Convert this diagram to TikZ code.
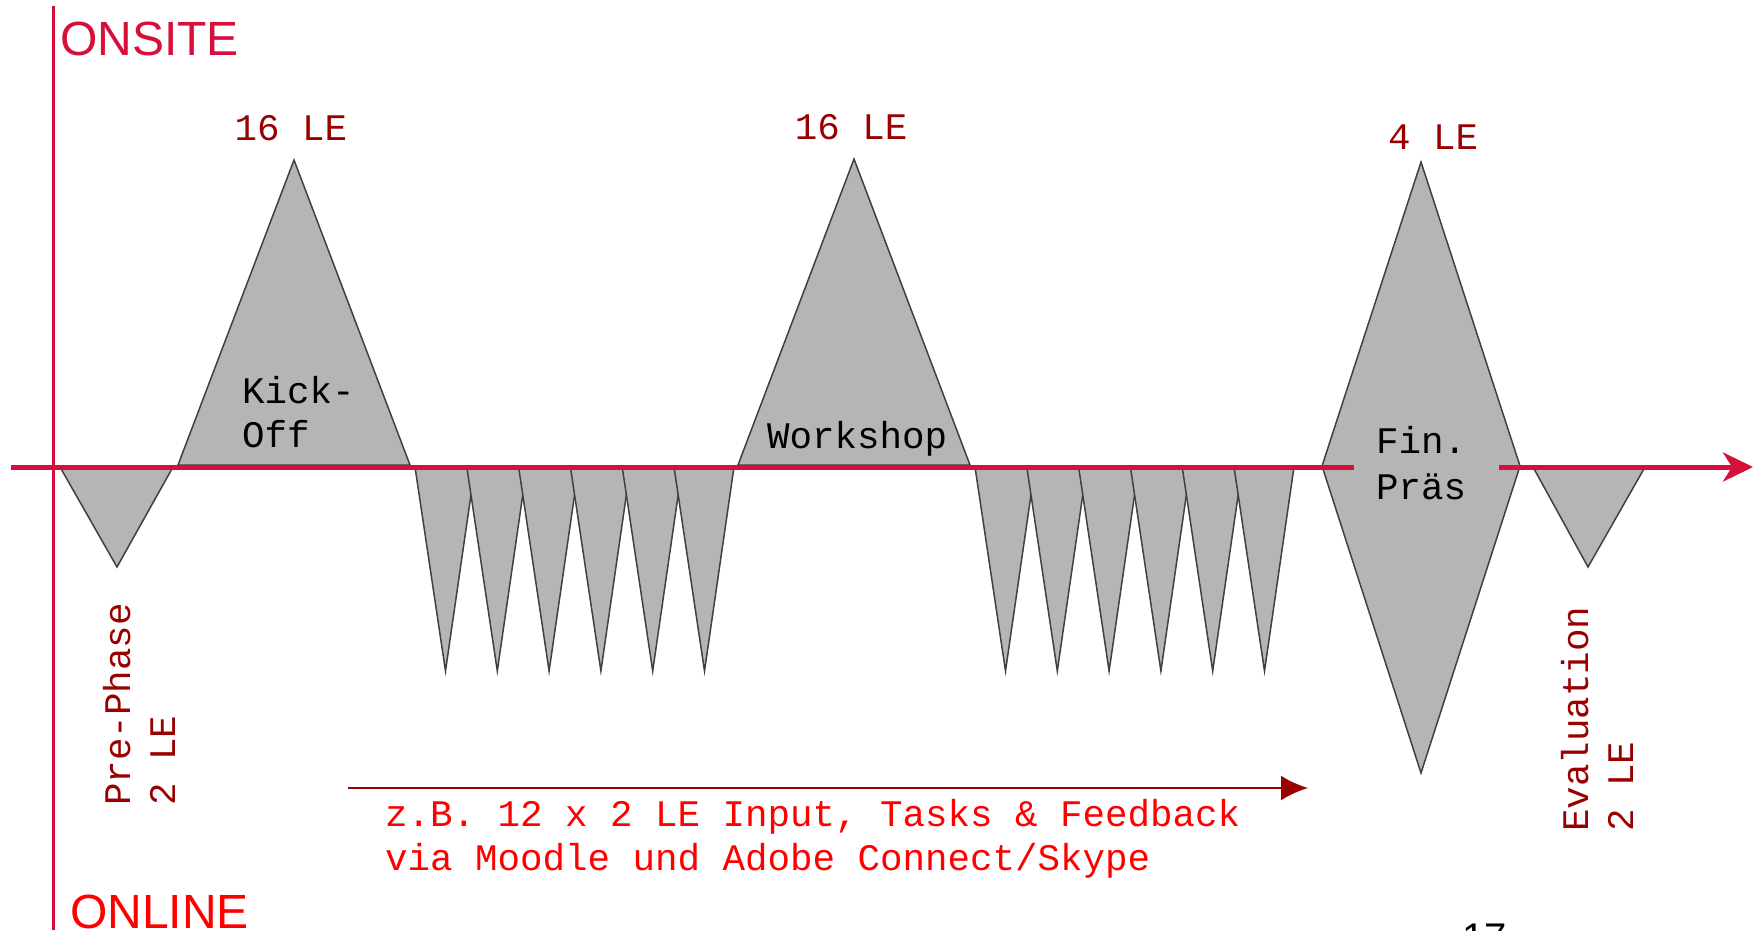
\documentclass[tikz,border=0pt]{standalone}
\usepackage{fontspec}
\setmainfont{Liberation Sans}
\newfontfamily\monof{Liberation Mono}
\usetikzlibrary{arrows.meta}
\definecolor{axisred}{HTML}{D6103A}
\definecolor{darkred}{HTML}{990000}
\definecolor{brightred}{HTML}{FF0000}
\definecolor{shapegray}{HTML}{B5B5B5}
\definecolor{edgegray}{HTML}{404040}
\tikzset{
  phase/.style={fill=shapegray,draw=edgegray,line width=1.5pt,line join=miter},
  axisline/.style={draw=axisred,line width=5pt},
  monolbl/.style={font=\monof\fontsize{37.5}{44}\selectfont,inner sep=0pt},
  lelbl/.style={monolbl,text=darkred},
  phaselbl/.style={monolbl,text=black,anchor=base west},
  sidelbl/.style={monolbl,text=darkred,rotate=90,anchor=base west},
  biglbl/.style={font=\fontsize{48}{54}\selectfont,inner sep=0pt,anchor=base west},
}
\begin{document}
\begin{tikzpicture}[x=1pt,y=-1pt]
\useasboundingbox (0,0) rectangle (1760,930);
\begin{scope}
\clip (0,0) rectangle (1760,930);
% vertical axis
\coordinate (vtop) at (53,6);
\coordinate (vbot) at (53,930);
\draw[draw=axisred,line width=3pt] (vtop) -- (vbot);
% shapes
\draw[phase] (60,467) -- (173,467) -- (117,567) -- cycle;
\draw[phase] (178,465) -- (410,465) -- (294,160) -- cycle;
\foreach \i in {0,...,5}{
  \pgfmathsetmacro{\xa}{415+51.8*\i}
  \draw[phase] (\xa,467) -- (\xa+60,467) -- (\xa+30.5,671) -- cycle;
}
\draw[phase] (738,465) -- (970,465) -- (854,159) -- cycle;
\foreach \i in {0,...,5}{
  \pgfmathsetmacro{\xa}{975+51.8*\i}
  \draw[phase] (\xa,467) -- (\xa+60,467) -- (\xa+30.5,671) -- cycle;
}
\draw[phase] (1421,162) -- (1520,466) -- (1421,773) -- (1322,466) -- cycle;
\draw[phase] (1533,467) -- (1645,467) -- (1588,567) -- cycle;
% horizontal axis
\coordinate (hstart) at (11,467);
\coordinate (hgapl) at (1354,467);
\coordinate (hgapr) at (1499,467);
\coordinate (hend) at (1753,467);
\draw[axisline] (hstart) -- (hgapl);
\draw[axisline,-{Stealth[length=30pt,width=29pt,inset=9pt]}] (hgapr) -- (hend);
% labels
\node[biglbl,text=axisred] (onsite) at (60,55) {ONSITE};
\node[biglbl,text=brightred] (online) at (70,928) {ONLINE};
\node[lelbl,anchor=base] (le1) at (291,140) {16 LE};
\node[lelbl,anchor=base] (le2) at (851,139) {16 LE};
\node[lelbl,anchor=base] (le3) at (1433,149) {4 LE};
\node[phaselbl] (kick1) at (242,403) {Kick-};
\node[phaselbl] (kick2) at (242,447) {Off};
\node[phaselbl] (work) at (767,448) {Workshop};
\node[phaselbl] (fin1) at (1376,453) {Fin.};
\node[phaselbl] (fin2) at (1376,499) {Präs};
\node[sidelbl] (pre1) at (130,806) {Pre-Phase};
\node[sidelbl] (pre2) at (175,806) {2 LE};
\node[sidelbl] (eval1) at (1588,832) {Evaluation};
\node[sidelbl] (eval2) at (1633,832) {2 LE};
% online arrow
\coordinate (oa) at (348,788);
\coordinate (ob) at (1308,788);
\draw[draw=darkred,line width=2.5pt,-{Latex[length=27pt,width=25pt]}] (oa) -- (ob);
\node[monolbl,text=brightred,anchor=base west] (txt1) at (385,826) {z.B. 12 x 2 LE Input, Tasks \& Feedback};
\node[monolbl,text=brightred,anchor=base west] (txt2) at (385,870) {via Moodle und Adobe Connect/Skype};
\node[font=\fontsize{40}{44}\selectfont,inner sep=0pt,anchor=base west] (pg) at (1462,951) {17};
\end{scope}
\end{tikzpicture}
\end{document}
